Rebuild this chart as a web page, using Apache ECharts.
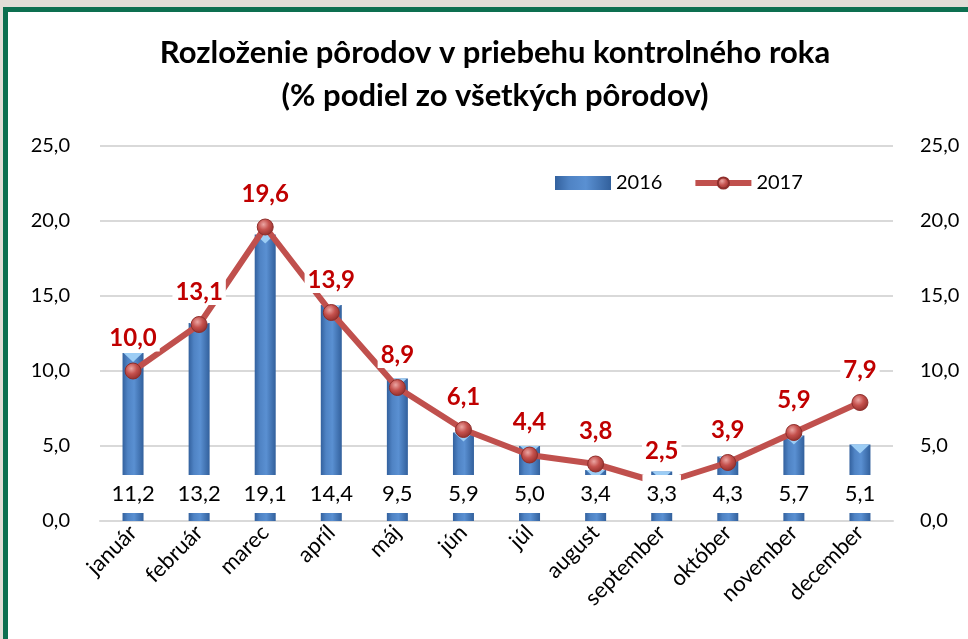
<!DOCTYPE html>
<html>
<head>
<meta charset="utf-8">
<script src="https://cdn.jsdelivr.net/npm/echarts@6/dist/echarts.min.js"></script>
<style>
  html, body { margin: 0; padding: 0; width: 968px; height: 639px; overflow: hidden; background: #e2ddd7; }
  #frame { position: absolute; left: 3px; top: 7px; width: 990px; height: 660px; border: 5px solid #0d6f50; background: #fff; }
  #chart { position: absolute; left: 0; top: 0; width: 968px; height: 639px; }
</style>
</head>
<body>
<div id="frame"></div>
<div id="chart"></div>
<script>
const months = ['január', 'február', 'marec', 'apríl', 'máj', 'jún', 'júl', 'august', 'september', 'október', 'november', 'december'];
const births2016 = [11.2, 13.2, 19.1, 14.4, 9.5, 5.9, 5.0, 3.4, 3.3, 4.3, 5.7, 5.1];
const births2017 = [10.0, 13.1, 19.6, 13.9, 8.9, 6.1, 4.4, 3.8, 2.5, 3.9, 5.9, 7.9];
const yTicks = [0, 5, 10, 15, 20, 25];

const fmt = v => Number(v).toFixed(1).replace('.', ',');
const FONT = 'Lato';

const barFill = new echarts.graphic.LinearGradient(0, 0, 1, 0, [
  { offset: 0, color: '#33619e' },
  { offset: 0.25, color: '#4f83c4' },
  { offset: 0.55, color: '#5a90d2' },
  { offset: 1, color: '#32609c' }
]);
const ballFill = new echarts.graphic.RadialGradient(0.4, 0.35, 0.65, [
  { offset: 0, color: '#eba6a3' },
  { offset: 0.5, color: '#c5514d' },
  { offset: 1, color: '#94302d' }
]);

const axisLabelStyle = { fontFamily: FONT, fontSize: 20, color: '#000' };

const chart = echarts.init(document.getElementById('chart'), null, { renderer: 'canvas' });
chart.setOption({
  backgroundColor: 'transparent',
  animation: false,
  title: {
    text: 'Rozloženie pôrodov v priebehu kontrolného roka\n(% podiel zo všetkých pôrodov)',
    left: 490, textAlign: 'center', top: 26,
    textStyle: { fontFamily: FONT, fontWeight: 'bold', fontSize: 31, lineHeight: 43, color: '#000' }
  },
  legend: {
    data: [
      { name: '2016', icon: 'rect', itemStyle: { color: barFill } },
      { name: '2017', lineStyle: { width: 6, color: '#c0504d' } }
    ],
    left: 550, top: 168,
    itemWidth: 56, itemHeight: 14, itemGap: 30,
    textStyle: { fontFamily: FONT, fontSize: 20, color: '#000', padding: [0, 0, 0, 0] }
  },
  grid: { left: 100, right: 75, top: 146, bottom: 118 },
  xAxis: {
    type: 'category',
    data: months,
    axisLine: { lineStyle: { color: '#d9d9d9', width: 2 } },
    axisTick: { show: false },
    axisLabel: { ...axisLabelStyle, fontSize: 22, rotate: 45, margin: 8, interval: 0 }
  },
  yAxis: [
    {
      type: 'value', min: yTicks[0], max: yTicks[yTicks.length - 1], interval: 5,
      axisLine: { show: false }, axisTick: { show: false },
      splitLine: { lineStyle: { color: '#d9d9d9', width: 2 } },
      axisLabel: { ...axisLabelStyle, margin: 30, formatter: fmt }
    },
    {
      type: 'value', min: yTicks[0], max: yTicks[yTicks.length - 1], interval: 5,
      axisLine: { show: false }, axisTick: { show: false },
      splitLine: { show: false },
      axisLabel: { ...axisLabelStyle, margin: 27, formatter: fmt }
    }
  ],
  series: [
    {
      name: '2016', type: 'bar', data: births2016, barWidth: 21, z: 1,
      itemStyle: { color: barFill },
      emphasis: { disabled: true }
    },
    {
      // bevel highlight on top of each column
      name: '2016-top', type: 'pictorialBar', data: births2016, z: 2,
      symbol: 'triangle', symbolRotate: 180, symbolSize: [19, 9],
      symbolPosition: 'end', symbolOffset: [0, 0],
      itemStyle: { color: '#9ccdf5' },
      emphasis: { disabled: true }, silent: true
    },
    {
      name: '2017', type: 'line', yAxisIndex: 1, data: births2017, z: 3,
      lineStyle: { color: '#c0504d', width: 6 },
      itemStyle: { color: ballFill, borderColor: '#8e2e2b', borderWidth: 1 },
      symbol: 'circle', symbolSize: 16, showAllSymbol: true,
      label: {
        show: true, position: 'top', distance: 11,
        formatter: p => fmt(p.value),
        fontFamily: FONT, fontWeight: 'bold', fontSize: 24, color: '#c00000',
        backgroundColor: '#fff', padding: [1, 3]
      },
      emphasis: { disabled: true }
    },
    {
      // value boxes for 2016 sit above the line
      name: '2016-labels', type: 'bar', data: births2016, barWidth: 21, barGap: '-100%', z: 5,
      itemStyle: { color: 'rgba(0,0,0,0)' },
      label: {
        show: true, position: 'insideBottom', distance: 8,
        formatter: p => fmt(p.value),
        fontFamily: FONT, fontSize: 22, color: '#000', lineHeight: 24,
        backgroundColor: '#fff', padding: [7, 4, 7, 4]
      },
      emphasis: { disabled: true }, silent: true
    }
  ]
});
</script>
</body>
</html>
